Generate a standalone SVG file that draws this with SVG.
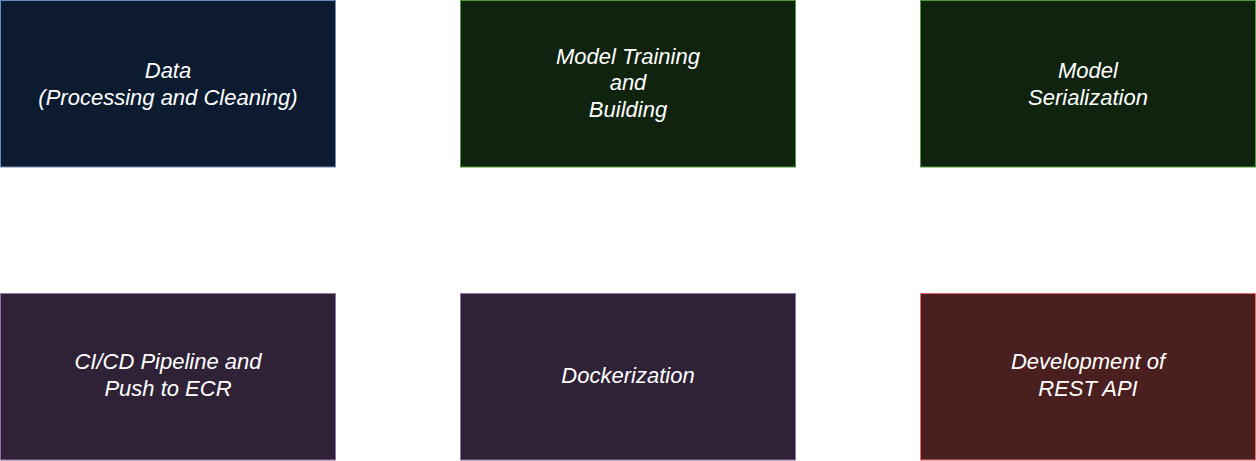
<svg xmlns="http://www.w3.org/2000/svg" width="1256" height="461" viewBox="0 0 1256 461">
<style>
.n{stroke-width:1}
.t{font-family:"Liberation Sans",Arial,sans-serif;font-style:italic;font-size:22px;fill:#ffffff;text-anchor:middle}
.blue{fill:#0c1b2f;stroke:#6c8ebf}
.green{fill:#10230f;stroke:#4f9a3a}
.purple{fill:#2f2236;stroke:#9673a6}
.red{fill:#4a1f1f;stroke:#ea6b66}
</style>
<rect width="1256" height="461" fill="#ffffff"/>
<g id="connectors"></g>
<g id="data"><rect class="n blue" x="0.5" y="0.5" width="335" height="166.5"/><text class="t" x="168" y="77.5">Data</text><text class="t" x="168" y="104.5">(Processing and Cleaning)</text></g>
<g id="training"><rect class="n green" x="460.5" y="0.5" width="335" height="166.5"/><text class="t" x="628" y="63.5">Model Training</text><text class="t" x="628" y="90">and</text><text class="t" x="628" y="116.5">Building</text></g>
<g id="serialization"><rect class="n green" x="920.5" y="0.5" width="335" height="166.5"/><text class="t" x="1088" y="77.5">Model</text><text class="t" x="1088" y="104.5">Serialization</text></g>
<g id="cicd"><rect class="n purple" x="0.5" y="293.5" width="335" height="166.5"/><text class="t" x="168" y="368.5">CI/CD Pipeline and</text><text class="t" x="168" y="395.5">Push to ECR</text></g>
<g id="docker"><rect class="n purple" x="460.5" y="293.5" width="335" height="166.5"/><text class="t" x="628" y="382.5">Dockerization</text></g>
<g id="restapi"><rect class="n red" x="920.5" y="293.5" width="335" height="166.5"/><text class="t" x="1088" y="368.5">Development of</text><text class="t" x="1088" y="395.5">REST API</text></g>
</svg>
